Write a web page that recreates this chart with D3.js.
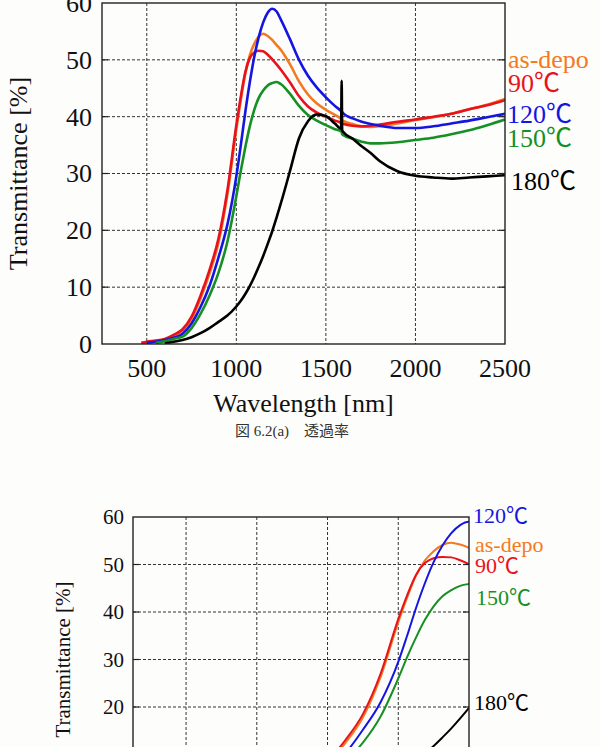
<!DOCTYPE html>
<html>
<head>
<meta charset="utf-8">
<script src="https://cdn.jsdelivr.net/npm/d3@7"></script>
<style>
  body { margin: 0; background: #fdfdfb; }
  svg { display: block; }
  text { font-family: "Liberation Serif", "Times New Roman", serif; fill: #111; }
</style>
</head>
<body>
<svg id="chart" width="600" height="747"></svg>
<script>
// Wavelength samples [nm], shared by all curves
const wavelengths = [470, 500, 550, 600, 650, 700, 750, 800, 850, 900,
    950, 1000, 1025, 1050, 1075, 1100, 1125, 1150, 1175, 1200,
    1225, 1250, 1300, 1350, 1400, 1450, 1500, 1550, 1585, 1588,
    1591, 1600, 1650, 1700, 1750, 1800, 1900, 2000, 2100, 2200,
    2300, 2400, 2500];

// Transmittance [%] (null = no data)
const asDepo = [0.2, 0.3, 0.5, 0.8, 1.4, 2.4, 4.4, 8.0, 12.4, 17.8,
    26.3, 37.8, 43.0, 47.6, 50.8, 52.8, 54.1, 54.6, 54.2, 53.5,
    52.6, 51.7, 49.2, 46.2, 43.9, 42.3, 41.2, 40.3, 39.6, 39.5,
    39.4, 39.2, 38.7, 38.3, 38.2, 38.3, 38.8, 39.4, 39.9, 40.5,
    41.3, 42.1, 43.1];
const t90 = [0.2, 0.4, 0.6, 0.9, 1.6, 2.6, 4.8, 8.5, 13.0, 18.5,
    27.0, 38.5, 43.5, 47.8, 50.3, 51.3, 51.6, 51.5, 50.9, 50.1,
    49.2, 48.2, 46.0, 43.6, 41.8, 40.7, 40.0, 39.3, 38.9, 38.8,
    38.8, 38.7, 38.4, 38.3, 38.4, 38.6, 39.1, 39.5, 40.0, 40.5,
    41.3, 42.0, 42.9];
const t120 = [null, 0.2, 0.4, 0.7, 1.1, 1.8, 3.6, 6.5, 10.2, 15.2,
    21.0, 29.5, 35.0, 40.8, 46.0, 50.5, 54.0, 56.6, 58.3, 59.0,
    58.5, 57.0, 53.6, 50.0, 47.2, 45.1, 43.4, 41.9, 41.0, 40.9,
    40.8, 40.5, 39.7, 39.1, 38.7, 38.4, 38.0, 38.0, 38.3, 38.8,
    39.3, 39.9, 40.5];
const t150 = [null, null, 0.2, 0.5, 0.9, 1.3, 2.8, 5.3, 8.5, 12.5,
    18.0, 26.0, 30.5, 34.6, 38.3, 41.2, 43.3, 44.6, 45.5, 45.9,
    46.1, 45.7, 44.0, 41.9, 40.3, 39.3, 38.5, 37.8, 37.4, 37.3,
    36.9, 36.7, 36.1, 35.6, 35.3, 35.3, 35.5, 35.9, 36.3, 36.9,
    37.6, 38.5, 39.5];
const t180 = [null, null, null, 0.1, 0.4, 0.7, 1.2, 1.9, 2.8, 3.9,
    5.0, 6.6, 7.6, 8.8, 10.2, 11.8, 13.6, 15.5, 17.6, 19.8,
    22.3, 24.9, 30.5, 36.2, 39.2, 40.4, 40.1, 38.8, 37.9, 46.3,
    37.6, 37.2, 36.1, 34.8, 33.6, 32.2, 30.4, 29.6, 29.3, 29.1,
    29.3, 29.5, 29.7];

const seriesNames = ["as-depo", "90", "120", "150", "180"];
const seriesColors = ["#f47a22", "#e8121c", "#1515e2", "#159024", "#000000"];
const seriesValues = [asDepo, t90, t120, t150, t180];

const yTicks = [0, 10, 20, 30, 40, 50, 60];
const topXTicks = [500, 1000, 1500, 2000, 2500];
const bottomXTicks = [400, 600, 800, 1000, 1200];

const series = seriesNames.map((name, i) => ({
    name: name,
    color: seriesColors[i],
    points: wavelengths.map((w, j) => [w, seriesValues[i][j]])
}));

const svg = d3.select("#chart");

function drawPanel(cfg) {
    const g = svg.append("g");
    const x = d3.scaleLinear().domain(cfg.xDomain).range([cfg.left, cfg.right]);
    const y = d3.scaleLinear().domain([0, 60]).range([cfg.bottom, cfg.top]);

    const clipId = "clip-" + cfg.id;
    g.append("clipPath").attr("id", clipId)
        .append("rect")
        .attr("x", cfg.left).attr("y", cfg.top)
        .attr("width", cfg.right - cfg.left).attr("height", cfg.bottom - cfg.top);

    // dotted grid
    g.append("g").selectAll("line")
        .data(cfg.xTicks.filter(t => t > cfg.xDomain[0] && t < cfg.xDomain[1]))
        .join("line")
        .attr("x1", d => x(d)).attr("x2", d => x(d))
        .attr("y1", cfg.top).attr("y2", cfg.bottom)
        .attr("stroke", "#333").attr("stroke-width", 1)
        .attr("stroke-dasharray", "3,2");
    g.append("g").selectAll("line")
        .data(yTicks.filter(t => t > 0 && t < 60))
        .join("line")
        .attr("x1", cfg.left).attr("x2", cfg.right)
        .attr("y1", d => y(d)).attr("y2", d => y(d))
        .attr("stroke", "#333").attr("stroke-width", 1)
        .attr("stroke-dasharray", "3,2");

    // curves
    const line = d3.line()
        .defined(d => d[1] != null)
        .x(d => x(d[0]))
        .y(d => y(d[1]))
        .curve(d3.curveMonotoneX);
    g.append("g").attr("clip-path", `url(#${clipId})`)
        .selectAll("path")
        .data(series)
        .join("path")
        .attr("d", d => line(d.points))
        .attr("fill", "none")
        .attr("stroke", d => d.color)
        .attr("stroke-width", cfg.lineWidth)
        .attr("stroke-linejoin", "round");

    // frame and inner ticks
    g.append("rect")
        .attr("x", cfg.left).attr("y", cfg.top)
        .attr("width", cfg.right - cfg.left).attr("height", cfg.bottom - cfg.top)
        .attr("fill", "none").attr("stroke", "#222").attr("stroke-width", 1.4);
    g.append("g").selectAll("line")
        .data(yTicks.filter(t => t > 0 && t < 60))
        .join(enter => {
            const s = enter.append("g");
            s.append("line").attr("x1", cfg.left).attr("x2", cfg.left + 6)
                .attr("y1", d => y(d)).attr("y2", d => y(d));
            s.append("line").attr("x1", cfg.right - 6).attr("x2", cfg.right)
                .attr("y1", d => y(d)).attr("y2", d => y(d));
            return s;
        })
        .selectAll("line").attr("stroke", "#222").attr("stroke-width", 1.2);

    // y tick labels
    g.append("g").selectAll("text")
        .data(yTicks)
        .join("text")
        .attr("x", cfg.left - cfg.tickGap)
        .attr("y", d => y(d) + cfg.tickFont * 0.34)
        .attr("text-anchor", "end")
        .attr("font-size", cfg.tickFont)
        .text(d => d);

    // x tick labels
    g.append("g").selectAll("text")
        .data(cfg.xTicks)
        .join("text")
        .attr("x", d => x(d))
        .attr("y", cfg.bottom + cfg.xLabelDy)
        .attr("text-anchor", "middle")
        .attr("font-size", cfg.tickFont)
        .text(d => d);

    // axis titles
    g.append("text")
        .attr("transform", `translate(${cfg.yTitleX},${(cfg.top + cfg.bottom) / 2}) rotate(-90)`)
        .attr("text-anchor", "middle")
        .attr("font-size", cfg.titleFont)
        .text("Transmittance [%]");
    g.append("text")
        .attr("x", (cfg.left + cfg.right) / 2)
        .attr("y", cfg.bottom + cfg.xTitleDy)
        .attr("text-anchor", "middle")
        .attr("font-size", cfg.titleFont)
        .text("Wavelength [nm]");

    // curve labels at the right
    cfg.labels.forEach(l => {
        const s = series[l.index];
        const t = g.append("text")
            .attr("x", l.x).attr("y", l.y)
            .attr("font-size", cfg.labelFont)
            .style("fill", s.color);
        if (s.name === "as-depo") {
            t.text(s.name);
        } else {
            t.append("tspan").text(s.name);
            t.append("tspan")
                .style("font-family", "'Noto Sans CJK JP', sans-serif")
                .style("fill", s.color)
                .text("\u2103");
        }
    });
}

// upper figure: full range
drawPanel({
    id: "top", left: 102, right: 505, top: 3, bottom: 344,
    xDomain: [250, 2500], xTicks: topXTicks,
    tickFont: 26, titleFont: 26, labelFont: 26, lineWidth: 2.6,
    tickGap: 10, xLabelDy: 33, xTitleDy: 68, yTitleX: 27,
    labels: [
        { index: 0, x: 508, y: 68 },
        { index: 1, x: 508, y: 92 },
        { index: 2, x: 507, y: 123 },
        { index: 3, x: 507, y: 147 },
        { index: 4, x: 511, y: 190 }
    ]
});

svg.append("text")
    .attr("x", 292).attr("y", 436)
    .attr("text-anchor", "middle")
    .attr("font-size", 15)
    .style("fill", "#333")
    .style("font-family", "'Liberation Serif', 'Noto Sans CJK JP', serif")
    .text("図 6.2(a)\u3000透過率");

// lower figure: short-wavelength zoom
drawPanel({
    id: "bottom", left: 133, right: 469, top: 517, bottom: 802,
    xDomain: [250, 1200], xTicks: bottomXTicks,
    tickFont: 21, titleFont: 21, labelFont: 22, lineWidth: 2,
    tickGap: 9, xLabelDy: 28, xTitleDy: 58, yTitleX: 70,
    labels: [
        { index: 2, x: 473, y: 523 },
        { index: 0, x: 475, y: 552 },
        { index: 1, x: 475, y: 573 },
        { index: 3, x: 476, y: 605 },
        { index: 4, x: 474, y: 710 }
    ]
});
</script>
</body>
</html>
